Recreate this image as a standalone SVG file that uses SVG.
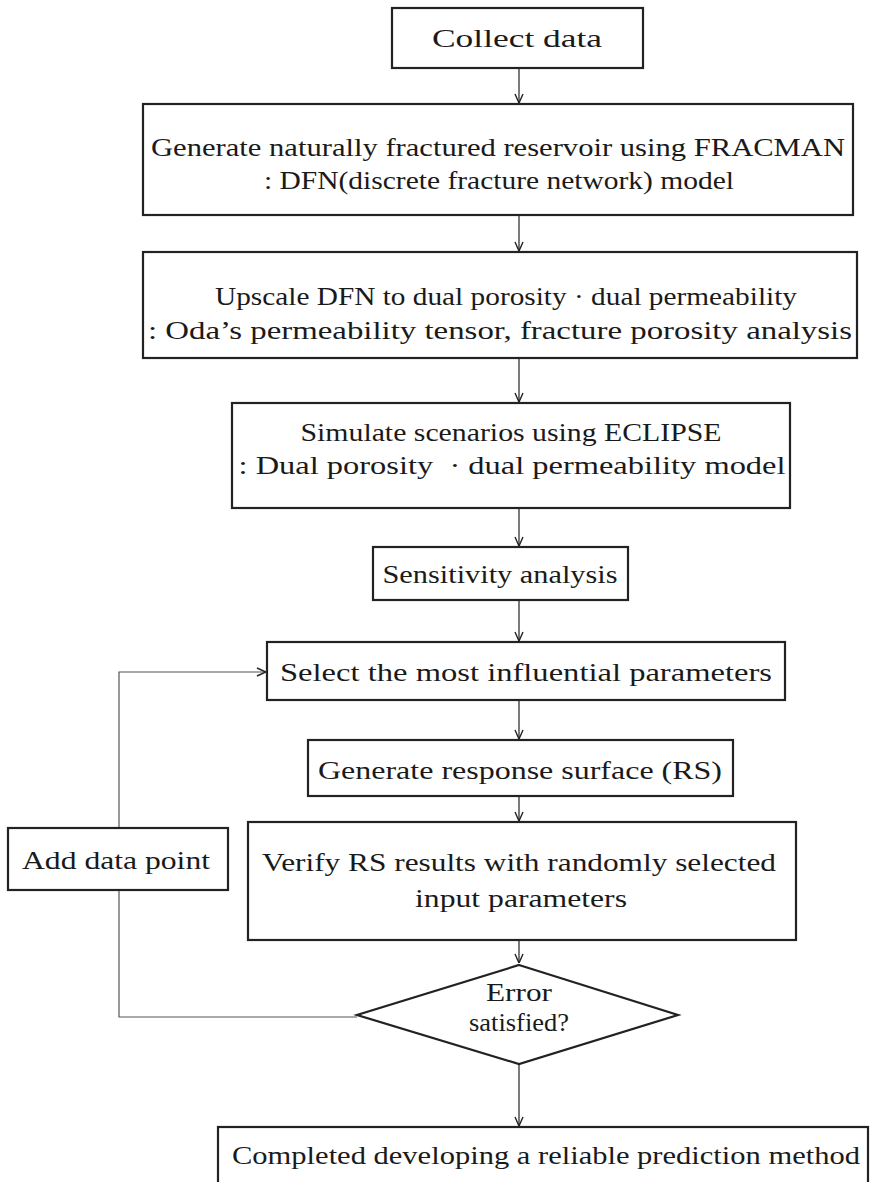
<svg xmlns="http://www.w3.org/2000/svg" width="872" height="1182" viewBox="0 0 872 1182">
<defs>
<marker id="arr" viewBox="0 0 10 10" refX="10" refY="5" markerWidth="10" markerHeight="10" markerUnits="userSpaceOnUse" orient="auto">
<path d="M1,1 L10,5 L1,9" fill="none" stroke="#222" stroke-width="1.4"/>
</marker>
<style>
.box{fill:#fff;stroke:#222;stroke-width:2.2}
.t{font-family:"Liberation Serif","Times New Roman",serif;font-size:25px;fill:#1a1a1a;text-anchor:middle}
.c{fill:none;stroke:#333;stroke-width:1.3}
.loop{fill:none;stroke:#555;stroke-width:1.2}
</style>
</defs>
<rect width="872" height="1182" fill="#fff"/>
<g id="connectors">
<line class="c" x1="519" y1="68" x2="519" y2="103" marker-end="url(#arr)"/>
<line class="c" x1="519" y1="215" x2="519" y2="251" marker-end="url(#arr)"/>
<line class="c" x1="519" y1="358" x2="519" y2="402" marker-end="url(#arr)"/>
<line class="c" x1="519" y1="508" x2="519" y2="546" marker-end="url(#arr)"/>
<line class="c" x1="519" y1="600" x2="519" y2="641" marker-end="url(#arr)"/>
<line class="c" x1="519" y1="700" x2="519" y2="739" marker-end="url(#arr)"/>
<line class="c" x1="519" y1="796" x2="519" y2="821" marker-end="url(#arr)"/>
<line class="c" x1="519" y1="940" x2="519" y2="963" marker-end="url(#arr)"/>
<line class="c" x1="519" y1="1064" x2="519" y2="1126" marker-end="url(#arr)"/>
<path class="loop" d="M357,1017 H119 V672 H266" marker-end="url(#arr)"/>
</g>
<g id="n1"><rect class="box" x="392" y="8" width="251" height="60"/><text class="t" x="517" y="47" textLength="170" lengthAdjust="spacingAndGlyphs">Collect data</text></g>
<g id="n2"><rect class="box" x="143" y="104" width="710" height="111"/>
<text class="t" x="498" y="156" textLength="694" lengthAdjust="spacingAndGlyphs">Generate naturally fractured reservoir using FRACMAN</text>
<text class="t" x="499" y="189" textLength="470" lengthAdjust="spacingAndGlyphs">: DFN(discrete fracture network) model</text></g>
<g id="n3"><rect class="box" x="143" y="252" width="714" height="106"/>
<text class="t" x="506" y="305" textLength="582" lengthAdjust="spacingAndGlyphs">Upscale DFN to dual porosity · dual permeability</text>
<text class="t" x="500" y="339" textLength="704" lengthAdjust="spacingAndGlyphs">: Oda’s permeability tensor, fracture porosity analysis</text></g>
<g id="n4"><rect class="box" x="232" y="403" width="558" height="105"/>
<text class="t" x="511" y="441" textLength="421" lengthAdjust="spacingAndGlyphs">Simulate scenarios using ECLIPSE</text>
<text class="t" x="512" y="474" textLength="547" lengthAdjust="spacingAndGlyphs">: Dual porosity &#160;· dual permeability model</text></g>
<g id="n5"><rect class="box" x="373" y="547" width="255" height="53"/>
<text class="t" x="500" y="583" textLength="235" lengthAdjust="spacingAndGlyphs">Sensitivity analysis</text></g>
<g id="n6"><rect class="box" x="267" y="642" width="518" height="58"/>
<text class="t" x="526" y="681" textLength="492" lengthAdjust="spacingAndGlyphs">Select the most influential parameters</text></g>
<g id="n7"><rect class="box" x="308" y="740" width="425" height="56"/>
<text class="t" x="520" y="779" textLength="404" lengthAdjust="spacingAndGlyphs">Generate response surface (RS)</text></g>
<g id="n8"><rect class="box" x="248" y="822" width="548" height="118"/>
<text class="t" x="519" y="871" textLength="514" lengthAdjust="spacingAndGlyphs">Verify RS results with randomly selected</text>
<text class="t" x="521" y="907" textLength="212" lengthAdjust="spacingAndGlyphs">input parameters</text></g>
<g id="n9"><rect class="box" x="8" y="828" width="220" height="62"/>
<text class="t" x="116" y="869" textLength="188" lengthAdjust="spacingAndGlyphs">Add data point</text></g>
<g id="n10"><polygon class="box" points="519,965 678,1015 519,1064 357,1015"/>
<text class="t" x="519" y="1001" textLength="66" lengthAdjust="spacingAndGlyphs">Error</text>
<text class="t" x="519" y="1031" textLength="100" lengthAdjust="spacingAndGlyphs">satisfied?</text></g>
<g id="n11"><rect class="box" x="218" y="1127" width="650" height="70"/>
<text class="t" x="546" y="1164" textLength="628" lengthAdjust="spacingAndGlyphs">Completed developing a reliable prediction method</text></g>
</svg>
